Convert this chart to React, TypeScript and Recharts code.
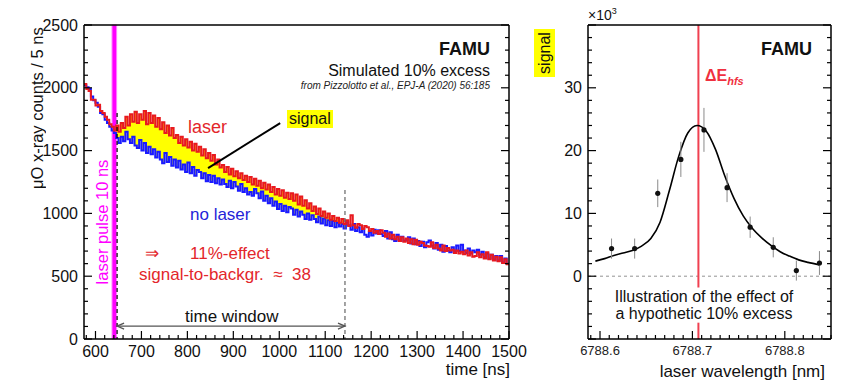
import React from 'react';
import {
  ComposedChart,
  Line,
  Area,
  Scatter,
  ErrorBar,
  XAxis,
  YAxis,
  ReferenceLine,
  ReferenceArea,
} from 'recharts';

const FONT = '"Liberation Sans", Arial, Helvetica, sans-serif';

// ---- left panel: simulated time spectrum, 5 ns bins starting at 575 ns
const BIN_START = 575;
const BIN_WIDTH = 5;
const TIME_END = 1500;

const noLaserCounts = [
  2020, 2005, 1990, 1930, 1900, 1880, 1850, 1800, 1790, 1745,
  1720, 1690, 1660, 1640, 1600, 1560, 1610, 1575, 1650, 1590,
  1560, 1610, 1540, 1520, 1585, 1500, 1560, 1480, 1530, 1470,
  1510, 1445, 1490, 1430, 1400, 1480, 1410, 1450, 1380, 1430,
  1365, 1420, 1350, 1390, 1330, 1405, 1320, 1370, 1300, 1345,
  1330, 1280, 1320, 1255, 1305, 1250, 1300, 1240, 1280, 1230,
  1270, 1235, 1210, 1260, 1200, 1250, 1215, 1180, 1235, 1170,
  1200, 1150, 1170, 1140, 1195, 1160, 1120, 1175, 1100, 1140,
  1080, 1120, 1060, 1095, 1035, 1075, 1020, 1060, 1010, 1050,
  1040, 990, 1030, 975, 1015, 990, 955, 1000, 950, 985,
  955, 930, 975, 920, 960, 905, 945, 900, 940, 890,
  925, 895, 915, 880, 930, 905, 870, 915, 860, 890,
  850, 880, 830, 815, 850, 825, 870, 840, 865, 835,
  820, 860, 800, 850, 795, 780, 830, 785, 815, 780,
  790, 810, 760, 800, 755, 780, 740, 775, 730, 770,
  785, 745, 720, 765, 710, 750, 695, 740, 705, 690,
  730, 695, 745, 700, 750, 705, 685, 720, 680, 705,
  690, 710, 670, 695, 650, 680, 640, 670, 630, 660,
  625, 660, 610, 640, 600,
];

const laserCounts = [
  2030, 1990, 1975, 1905, 1905, 1860, 1865, 1815, 1800, 1770,
  1745, 1710, 1690, 1660, 1700, 1650, 1720, 1680, 1770, 1700,
  1790, 1730, 1810, 1720, 1790, 1745, 1815, 1710, 1800, 1720,
  1780, 1690, 1760, 1670, 1725, 1640, 1700, 1620, 1680, 1600,
  1625, 1560, 1610, 1540, 1590, 1525, 1570, 1500, 1555, 1490,
  1530, 1460, 1510, 1440, 1480, 1420, 1465, 1390, 1430, 1365,
  1385, 1330, 1370, 1310, 1355, 1295, 1335, 1280, 1320, 1265,
  1300, 1250, 1290, 1230, 1275, 1220, 1260, 1200, 1245, 1190,
  1230, 1170, 1210, 1150, 1195, 1140, 1185, 1125, 1165, 1115,
  1160, 1100, 1150, 1070, 1135, 1060, 1105, 1040, 1080, 1020,
  1055, 995, 1040, 980, 1015, 965, 1000, 950, 980, 940,
  965, 925, 955, 915, 945, 900, 985, 905, 885, 915,
  905, 875, 900, 890, 860, 875, 845, 860, 835, 865,
  845, 815, 840, 800, 830, 795, 815, 780, 810, 775,
  800, 765, 795, 755, 790, 750, 775, 765, 745, 740,
  735, 770, 725, 750, 720, 705, 745, 700, 725, 705,
  710, 685, 705, 680, 695, 675, 705, 665, 690, 655,
  660, 690, 650, 675, 640, 690, 635, 670, 625, 655,
  620, 650, 605, 635, 595,
];

const excessWindow = [645, 1140];
const pulseBand = [636, 646];
const timeWindow = [647, 1143];

const timeTicks = Array.from({ length: 47 }, (_, i) => 580 + i * 20);
const countTicks = Array.from({ length: 26 }, (_, i) => i * 100);

// ---- right panel: signal vs laser wavelength (x10^3)
const wavelength = [
  6788.6125, 6788.6375, 6788.6625, 6788.6875, 6788.7125,
  6788.7375, 6788.7625, 6788.7875, 6788.8125, 6788.8375,
];
const signalK = [4.4, 4.4, 13.2, 18.6, 23.3, 14.1, 7.8, 4.6, 0.9, 2.1];
const signalErr = [1.6, 1.6, 2.2, 2.8, 3.5, 2.3, 1.7, 1.6, 1.6, 1.9];

const fitWavelength = [
  6788.595, 6788.605, 6788.615, 6788.625, 6788.635, 6788.645, 6788.655,
  6788.665, 6788.675, 6788.685, 6788.695, 6788.705, 6788.715, 6788.725,
  6788.735, 6788.745, 6788.755, 6788.765, 6788.775, 6788.785, 6788.795,
  6788.805, 6788.815, 6788.825, 6788.838,
];
const fitSignal = [
  2.4, 2.8, 3.3, 3.7, 4.1, 4.8, 6.0, 8.6, 13.6, 19.0, 22.8, 24.0, 23.1,
  20.2, 16.0, 12.4, 9.6, 7.6, 6.1, 4.9, 3.9, 3.2, 2.6, 2.2, 1.8,
];

const hfsLine = 6788.7065;
const wlTicks = Array.from({ length: 27 }, (_, i) => Math.round((6788.59 + i * 0.01) * 1000) / 1000);
const signalTicks = Array.from({ length: 26 }, (_, i) => -10 + i * 2);

// ---- derived tables
const histogram = noLaserCounts.map((b, i) => {
  const t = BIN_START + i * BIN_WIDTH;
  const r = laserCounts[i];
  const inWindow = t >= excessWindow[0] && t <= excessWindow[1];
  return { t, noLaser: b, laser: r, excess: inWindow ? [b, Math.max(b, r)] : null };
});
histogram.push({
  t: TIME_END,
  noLaser: noLaserCounts[noLaserCounts.length - 1],
  laser: laserCounts[laserCounts.length - 1],
  excess: null,
});

const points = wavelength.map((x, i) => ({ x, y: signalK[i], err: signalErr[i] }));
const fitData = fitWavelength.map((x, i) => ({ x, y: fitSignal[i] }));

// ---- ROOT-like ticks (inside the frame)
const isMult = (v: number, step: number) => Math.abs(v / step - Math.round(v / step)) < 1e-6;

type TickOpts = {
  side: 'left' | 'right' | 'top' | 'bottom';
  major: number;
  label?: (v: number) => string | null;
  fontSize?: number;
  fill?: string;
  dy?: number;
};

const frameTick = (o: TickOpts) => (p: any) => {
  const v = p.payload.value;
  const big = isMult(v, o.major);
  const len = big ? 8 : 4;
  const { x, y } = p;
  let line;
  if (o.side === 'left') line = <line x1={x} y1={y} x2={x + len} y2={y} />;
  else if (o.side === 'right') line = <line x1={x} y1={y} x2={x - len} y2={y} />;
  else if (o.side === 'top') line = <line x1={x} y1={y} x2={x} y2={y + len} />;
  else line = <line x1={x} y1={y} x2={x} y2={y - len} />;
  const txt = big && o.label ? o.label(v) : null;
  return (
    <g stroke="#000" strokeWidth={1.2}>
      {line}
      {txt != null && (
        <text
          x={o.side === 'left' ? x - 6 : x}
          y={o.side === 'left' ? y + 5.5 : y + (o.dy ?? 18)}
          textAnchor={o.side === 'left' ? 'end' : 'middle'}
          fontSize={o.fontSize ?? 16}
          fill={o.fill ?? '#111'}
          stroke="none"
          fontFamily={FONT}
        >
          {txt}
        </text>
      )}
    </g>
  );
};

const AX = { stroke: '#000', strokeWidth: 1.5 };

const arrowShape = (p: any) => {
  const { x1, y1, x2, y2 } = p;
  return (
    <g stroke="#555" strokeWidth={1.3} fill="none">
      <line x1={x1} y1={y1} x2={x2} y2={y2} />
      <polyline points={`${x1 + 7},${y1 - 3} ${x1},${y1} ${x1 + 7},${y1 + 3}`} />
      <polyline points={`${x2 - 7},${y2 - 3} ${x2},${y2} ${x2 - 7},${y2 + 3}`} />
    </g>
  );
};

const dotShape = (p: any) => <circle cx={p.cx} cy={p.cy} r={2.6} fill="#111" />;

function TimeSpectrum() {
  return (
    <ComposedChart width={530} height={391} data={histogram} margin={{ top: 0, right: 0, bottom: 0, left: 0 }}>
      <XAxis
        dataKey="t" type="number" domain={[BIN_START, TIME_END]} allowDataOverflow
        ticks={timeTicks} interval={0} tickSize={0} tickMargin={0} height={52}
        axisLine={AX} tickLine={false}
        tick={frameTick({ side: 'bottom', major: 100, label: (v) => String(v) })}
      />
      <XAxis
        xAxisId="top" orientation="top" type="number" domain={[BIN_START, TIME_END]} allowDataOverflow
        ticks={timeTicks} interval={0} tickSize={0} tickMargin={0} height={25}
        axisLine={AX} tickLine={false} tick={frameTick({ side: 'top', major: 100 })}
      />
      <YAxis
        type="number" domain={[0, 2500]} allowDataOverflow ticks={countTicks} interval={0}
        tickSize={0} tickMargin={0} width={84} axisLine={AX} tickLine={false}
        tick={frameTick({ side: 'left', major: 500, label: (v) => String(v) })}
      />
      <YAxis
        yAxisId="r" orientation="right" type="number" domain={[0, 2500]} allowDataOverflow
        ticks={countTicks} interval={0} tickSize={0} tickMargin={0} width={21}
        axisLine={AX} tickLine={false} tick={frameTick({ side: 'right', major: 500 })}
      />
      <ReferenceArea
        x1={pulseBand[0]} x2={pulseBand[1]} y1={0} y2={2500}
        fill="#ff00ff" fillOpacity={1} stroke="#ff80ff" strokeWidth={1}
      />
      <Area
        dataKey="excess" type="stepAfter" fill="#ffff00" fillOpacity={1} stroke="none"
        isAnimationActive={false}
      />
      <Line dataKey="noLaser" type="stepAfter" stroke="#1a1aff" strokeWidth={2} dot={false} isAnimationActive={false} />
      <Line dataKey="laser" type="stepAfter" stroke="#e8191f" strokeWidth={2} dot={false} isAnimationActive={false} />
      <ReferenceLine
        segment={[{ x: timeWindow[0], y: 1800 }, { x: timeWindow[0], y: 0 }]}
        stroke="#000" strokeWidth={1.2} strokeDasharray="4 3"
      />
      <ReferenceLine
        segment={[{ x: timeWindow[1], y: 1186 }, { x: timeWindow[1], y: 0 }]}
        stroke="#666" strokeWidth={1.2} strokeDasharray="4 3"
      />
      <ReferenceLine
        segment={[{ x: timeWindow[0], y: 103 }, { x: timeWindow[1], y: 103 }]}
        shape={arrowShape}
      />
      <ReferenceLine
        segment={[{ x: 845, y: 1361 }, { x: 1002, y: 1719 }]}
        stroke="#000" strokeWidth={2}
      />
    </ComposedChart>
  );
}

function SignalScan() {
  return (
    <ComposedChart width={311} height={391} margin={{ top: 0, right: 0, bottom: 0, left: 0 }}>
      <XAxis
        dataKey="x" type="number" domain={[6788.587, 6788.85]} allowDataOverflow
        ticks={wlTicks} interval={0} tickSize={0} tickMargin={0} height={52}
        axisLine={AX} tickLine={false}
        tick={frameTick({ side: 'bottom', major: 0.1, label: (v) => v.toFixed(1), fontSize: 13, fill: '#222', dy: 16 })}
      />
      <XAxis
        xAxisId="top" orientation="top" type="number" domain={[6788.587, 6788.85]} allowDataOverflow
        ticks={wlTicks} interval={0} tickSize={0} tickMargin={0} height={25}
        axisLine={AX} tickLine={false} tick={frameTick({ side: 'top', major: 0.1 })}
      />
      <YAxis
        type="number" domain={[-10, 40]} allowDataOverflow ticks={signalTicks} interval={0}
        tickSize={0} tickMargin={0} width={58} axisLine={AX} tickLine={false}
        tick={frameTick({ side: 'left', major: 10, label: (v) => (v >= 0 && v <= 30 ? String(v) : null) })}
      />
      <YAxis
        yAxisId="r" orientation="right" type="number" domain={[-10, 40]} allowDataOverflow
        ticks={signalTicks} interval={0} tickSize={0} tickMargin={0} width={10}
        axisLine={AX} tickLine={false} tick={frameTick({ side: 'right', major: 10 })}
      />
      <ReferenceLine y={0} stroke="#777" strokeWidth={0.8} strokeDasharray="3 3" />
      <ReferenceLine
        segment={[{ x: hfsLine, y: 40 }, { x: hfsLine, y: -1.8 }]}
        stroke="#f04050" strokeWidth={2}
      />
      <ReferenceLine
        segment={[{ x: hfsLine, y: -7.4 }, { x: hfsLine, y: -10 }]}
        stroke="#f04050" strokeWidth={2}
      />
      <Line
        data={fitData} dataKey="y" type="monotone" stroke="#000" strokeWidth={1.6}
        dot={false} isAnimationActive={false}
      />
      <Scatter data={points} dataKey="y" fill="#111" shape={dotShape} isAnimationActive={false}>
        <ErrorBar dataKey="err" direction="y" width={0} stroke="#8a8a8a" strokeWidth={1} />
      </Scatter>
    </ComposedChart>
  );
}

const abs = (s: React.CSSProperties): React.CSSProperties => ({
  position: 'absolute',
  whiteSpace: 'pre',
  lineHeight: 1,
  ...s,
});

// vertical text centred on (cx, cy)
const vert = (cx: number, cy: number, w: number, s: React.CSSProperties): React.CSSProperties => ({
  position: 'absolute',
  left: cx - w / 2,
  top: cy - 10,
  width: w,
  height: 20,
  lineHeight: '20px',
  textAlign: 'center',
  whiteSpace: 'nowrap',
  transform: 'rotate(-90deg)',
  ...s,
});

const RED = '#e3262b';

export default function App() {
  return (
    <div style={{ position: 'absolute', left: 0, top: 0, width: 864, height: 391, background: '#fff', fontFamily: FONT, color: '#111', overflow: 'hidden' }}>
      <div style={{ position: 'absolute', left: 0, top: 0 }}>
        <TimeSpectrum />
      </div>
      <div style={{ position: 'absolute', left: 530, top: 0 }}>
        <SignalScan />
      </div>

      {/* left panel texts */}
      <div style={abs({ right: 374, top: 40, fontSize: 18, fontWeight: 'bold' })}>FAMU</div>
      <div style={abs({ right: 374, top: 63, fontSize: 16 })}>Simulated 10% excess</div>
      <div style={abs({ right: 374, top: 81, fontSize: 10, fontStyle: 'italic', color: '#222' })}>
        from Pizzolotto et al., EPJ-A (2020) 56:185
      </div>
      <div style={abs({ left: 287, top: 110, fontSize: 16, lineHeight: '18px', background: '#ffff00', padding: '0 2px' })}>signal</div>
      <div style={abs({ left: 188, top: 118, fontSize: 18, color: RED })}>laser</div>
      <div style={abs({ left: 190, top: 206, fontSize: 17, color: '#2424d8' })}>no laser</div>
      <div style={abs({ left: 145, top: 245, fontSize: 17, color: RED })}>⇒</div>
      <div style={abs({ left: 190, top: 245, fontSize: 17, color: RED })}>11%-effect</div>
      <div style={abs({ left: 139, top: 266, fontSize: 17, color: RED })}>signal-to-backgr.  ≈  38</div>
      <div style={abs({ left: 185, top: 308, fontSize: 17 })}>time window</div>
      <div style={vert(102, 222, 180, { fontSize: 16.5, color: '#ff00ff' })}>laser pulse 10 ns</div>
      <div
        style={{
          position: 'absolute', left: 29, top: 25, height: 166, width: 16, lineHeight: '16px',
          fontSize: 16.5, writingMode: 'vertical-rl', transform: 'rotate(180deg)',
          textAlign: 'center', whiteSpace: 'nowrap',
        }}
      >
        μO x-ray counts / 5 ns
      </div>
      <div style={abs({ right: 354, top: 361, fontSize: 17 })}>time [ns]</div>

      {/* right panel texts */}
      <div style={abs({ left: 588, top: 7, fontSize: 14 })}>
        ×10<sup style={{ fontSize: 9 }}>3</sup>
      </div>
      <div style={vert(545, 53, 100, { fontSize: 16 })}>
        <span style={{ background: '#ffff00', padding: '2px 3px' }}>signal</span>
      </div>
      <div style={abs({ right: 52, top: 40, fontSize: 18, fontWeight: 'bold' })}>FAMU</div>
      <div style={abs({ left: 705, top: 68, fontSize: 16, fontWeight: 'bold', color: '#f03040' })}>
        ΔE<span style={{ fontSize: 11, fontStyle: 'italic', position: 'relative', top: 4 }}>hfs</span>
      </div>
      <div style={abs({ left: 704, top: 288, fontSize: 16, lineHeight: '17px', textAlign: 'center', transform: 'translateX(-50%)' })}>
        {'Illustration of the effect of\na hypothetic 10% excess'}
      </div>
      <div style={abs({ right: 39, top: 363, fontSize: 17 })}>laser wavelength [nm]</div>
    </div>
  );
}
